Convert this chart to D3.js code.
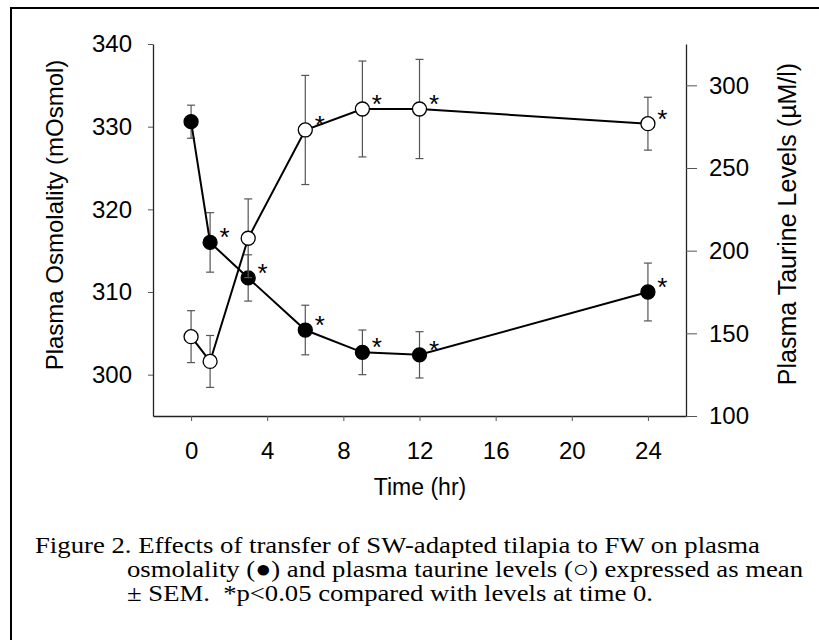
<!DOCTYPE html>
<html>
<head>
<meta charset="utf-8">
<script src="https://cdn.jsdelivr.net/npm/d3@7"></script>
<style>
  body { margin: 0; background: #fff; }
  svg { display: block; }
</style>
</head>
<body>
<svg id="chart"></svg>
<script>
// time points (hr)
var times = [0, 1, 3, 6, 9, 12, 24];

// plasma osmolality (mOsmol), filled circles
var osmoMean = [330.6, 316.0, 311.7, 305.4, 302.7, 302.4, 310.0];
var osmoSem  = [2.0, 3.6, 2.8, 3.0, 2.7, 2.8, 3.5];
var osmoSig  = [false, true, true, true, true, true, true];

// plasma taurine (uM/l), open circles
var taurMean = [148, 133, 207.5, 273, 285.7, 285.7, 276.8];
var taurSem  = [15.7, 15.7, 23.8, 33, 29, 30, 16];
var taurSig  = [false, false, false, true, true, true, true];

var xTicks = [0, 4, 8, 12, 16, 20, 24];
var leftTicks = [300, 310, 320, 330, 340];
var rightTicks = [100, 150, 200, 250, 300];

var captionLines = [
  "Figure 2. Effects of transfer of SW-adapted tilapia to FW on plasma",
  "osmolality (\u25CF) and plasma taurine levels (\u25CB) expressed as mean",
  "\u00B1 SEM.  *p<0.05 compared with levels at time 0."
];

var width = 819, height = 640;

var svg = d3.select("#chart")
    .attr("width", width)
    .attr("height", height);

// outer frame, only top and left edge fall inside the picture
svg.append("rect")
    .attr("x", 11).attr("y", 8)
    .attr("width", 830).attr("height", 660)
    .attr("fill", "none")
    .attr("stroke", "#000")
    .attr("stroke-width", 2);

var x = d3.scaleLinear().domain([-2, 26]).range([153, 686]);
var yL = d3.scaleLinear().domain([295, 340]).range([416, 44]);
var yR = d3.scaleLinear().domain([100, 325]).range([416, 44]);

var axisFont = "Liberation Sans, Arial, sans-serif";

// axes
var gx = svg.append("g")
    .attr("transform", "translate(0,416)")
    .call(d3.axisBottom(x).tickValues(xTicks).tickSize(5).tickSizeOuter(0).tickPadding(21));

var gl = svg.append("g")
    .attr("transform", "translate(153,0)")
    .call(d3.axisLeft(yL).tickValues(leftTicks).tickSize(5).tickSizeOuter(0).tickPadding(16));

var gr = svg.append("g")
    .attr("transform", "translate(686,0)")
    .call(d3.axisRight(yR).tickValues(rightTicks).tickSize(11).tickSizeOuter(0).tickPadding(12));

[gx, gl, gr].forEach(function(g) {
  g.selectAll("text")
    .style("font-family", axisFont)
    .style("font-size", "24px")
    .attr("fill", "#000");
  g.select(".domain").attr("stroke", "#222").attr("stroke-width", 1.3);
  g.selectAll(".tick line").attr("stroke", "#555");
});

// axis titles
svg.append("text")
    .attr("x", 420).attr("y", 495)
    .attr("text-anchor", "middle")
    .style("font-family", axisFont).style("font-size", "23px")
    .text("Time (hr)");

svg.append("text")
    .attr("transform", "translate(63,215) rotate(-90)")
    .attr("text-anchor", "middle")
    .style("font-family", axisFont).style("font-size", "24px")
    .text("Plasma Osmolality (mOsmol)");

svg.append("text")
    .attr("transform", "translate(796,224) rotate(-90)")
    .attr("text-anchor", "middle")
    .style("font-family", axisFont).style("font-size", "25px")
    .text("Plasma Taurine Levels (\u00B5M/l)");

// draw one series: error bars, line, markers, asterisks
function drawSeries(means, sems, sig, y, fill) {
  var pts = times.map(function(t, i) {
    return { t: t, m: means[i], s: sems[i], sig: sig[i] };
  });
  var g = svg.append("g");

  var eb = g.selectAll(".eb").data(pts).enter().append("g")
      .attr("stroke", "#555").attr("stroke-width", 1.2);
  eb.append("line")
      .attr("x1", d => x(d.t)).attr("x2", d => x(d.t))
      .attr("y1", d => y(d.m - d.s)).attr("y2", d => y(d.m + d.s));
  eb.append("line")
      .attr("x1", d => x(d.t) - 4).attr("x2", d => x(d.t) + 4)
      .attr("y1", d => y(d.m + d.s)).attr("y2", d => y(d.m + d.s));
  eb.append("line")
      .attr("x1", d => x(d.t) - 4).attr("x2", d => x(d.t) + 4)
      .attr("y1", d => y(d.m - d.s)).attr("y2", d => y(d.m - d.s));

  g.append("path")
      .datum(pts)
      .attr("fill", "none")
      .attr("stroke", "#000")
      .attr("stroke-width", 2)
      .attr("d", d3.line().x(d => x(d.t)).y(d => y(d.m)));

  g.selectAll("circle").data(pts).enter().append("circle")
      .attr("cx", d => x(d.t)).attr("cy", d => y(d.m))
      .attr("r", 7)
      .attr("fill", fill)
      .attr("stroke", "#000")
      .attr("stroke-width", 1.3);

  g.selectAll(".star").data(pts.filter(d => d.sig)).enter().append("text")
      .attr("x", d => x(d.t) + 14.5)
      .attr("y", d => y(d.m) + 4)
      .attr("text-anchor", "middle")
      .style("font-family", axisFont).style("font-size", "26px")
      .text("*");
}

drawSeries(osmoMean, osmoSem, osmoSig, yL, "#000");
drawSeries(taurMean, taurSem, taurSig, yR, "#fff");

// caption (the original type is a little wider than plain Times)
var capX = [35, 127, 127];
var capY = [553, 577, 601];
var capEnd = [760, 803, 653];
svg.selectAll(".cap").data(captionLines).enter().append("text")
    .attr("x", (d, i) => capX[i])
    .attr("y", (d, i) => capY[i])
    .attr("textLength", (d, i) => capEnd[i] - capX[i])
    .attr("lengthAdjust", "spacingAndGlyphs")
    .style("font-family", "Liberation Serif, 'Times New Roman', serif")
    .style("font-size", "24px")
    .style("white-space", "pre")
    .text(d => d);
</script>
</body>
</html>
